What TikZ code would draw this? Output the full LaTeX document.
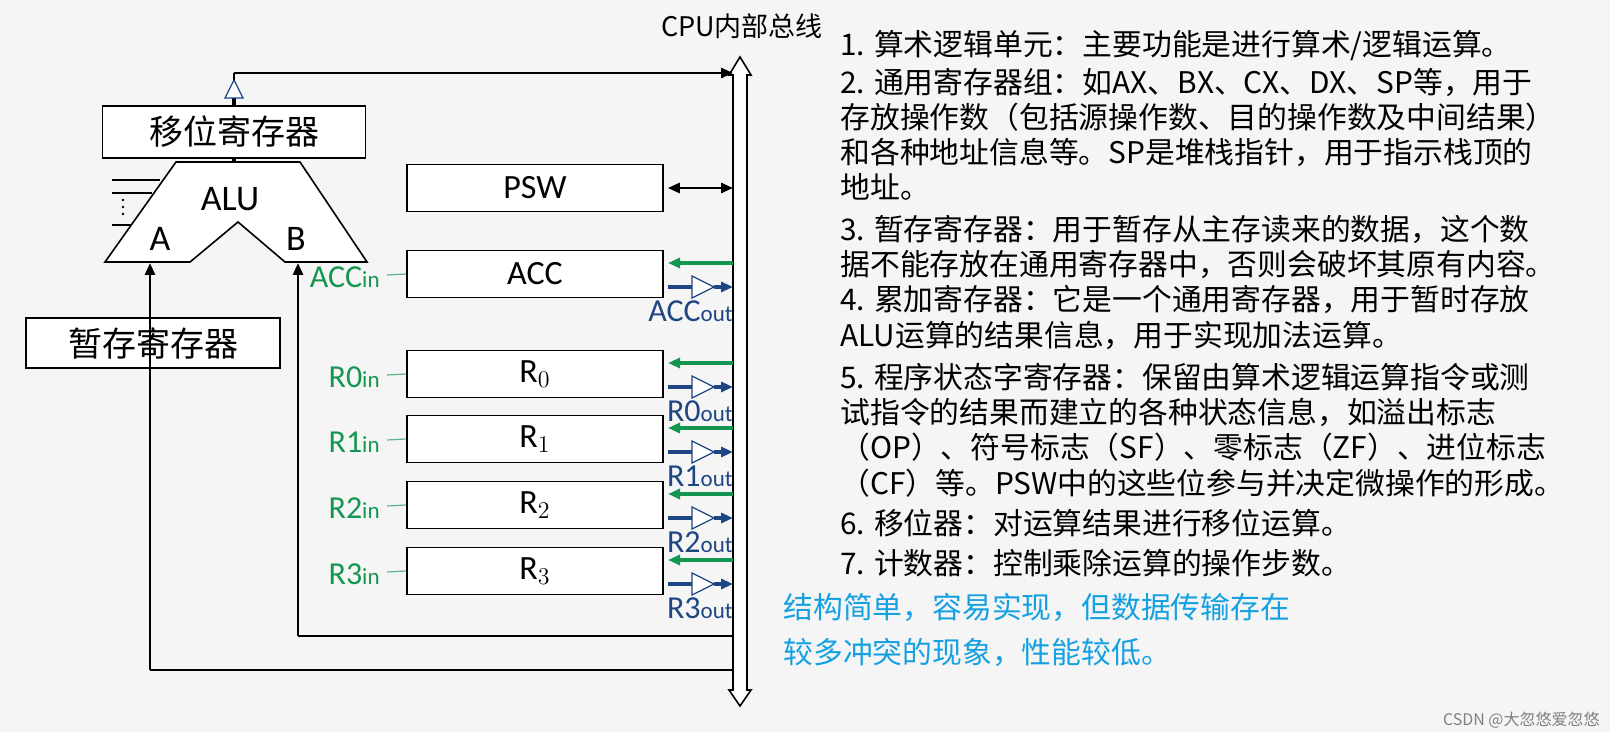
\documentclass[tikz,border=0pt]{standalone}
\usepackage{fontspec}
\setmainfont{Carlito}
\newfontfamily\cjk{Noto Sans CJK SC}
\usetikzlibrary{arrows.meta}
\definecolor{gr}{RGB}{20,150,80}
\definecolor{bl}{RGB}{30,70,130}
\definecolor{lb}{RGB}{20,160,225}
\begin{document}
\begin{tikzpicture}[x=0.5pt,y=-0.5pt,
 box/.style={draw,fill=white,line width=0.8pt},
 blk/.style={line width=1.4pt,-{Triangle[length=6pt,width=5pt]}},
 ga/.style={gr,line width=1.6pt,-{Triangle[length=6pt,width=5pt]}},
 ba/.style={bl,line width=1.6pt,-{Triangle[length=6pt,width=5pt]}},
 buf/.style={draw=bl,fill=white,line width=0.6pt},
 rt/.style={anchor=west,font=\cjk\fontsize{14.9pt}{16pt}\selectfont,inner sep=0pt},
 lbl/.style={font=\fontsize{18pt}{20pt}\selectfont}]
\fill[white!96!black] (0,0) rectangle (1610,732);
% bus
\draw[line width=0.8pt,fill=white] (733,75)--(733,690)--(729,690)--(740,706)--(751,690)--(747,690)--(747,75)--(751,75)--(740,57)--(729,75)--cycle;
\coordinate (bustop) at (733,73);
\node[font=\cjk\fontsize{13.5pt}{15pt}\selectfont] (cpu) at (742,26) {CPU内部总线};
% shift register and buffer
\node[box,minimum width=131.5pt,minimum height=26pt,font=\cjk\fontsize{17pt}{19pt}\selectfont] (sr) at (234,132) {移位寄存器};
\draw[line width=1.6pt] (sr.north) -- (234,96);
\draw[draw=bl,fill=white,line width=0.6pt] (225,98)--(243,98)--(234,80)--cycle;
\coordinate (c1) at (234,73);
\draw[line width=1.4pt] (234,80)--(c1);
\draw[blk] (c1) -- (bustop);
% ALU
\draw[line width=1.6pt] (234,158)--(234,162);
\draw[fill=white,line width=0.8pt] (176,162)--(300,162)--(367,262)--(285,262)--(238,222)--(190,262)--(105,262)--cycle;
\node[lbl] (alu) at (230,199) {ALU};
\node[lbl] (a) at (160,239) {A};
\node[lbl] (b) at (296,239) {B};
\foreach \yy/\xe in {180/160,193/152,225/131} \draw[line width=0.6pt] (112,\yy)--(\xe,\yy);
\foreach \yy in {200,207,214} \fill (123,\yy) circle (1.3);
% temp register
\node[box,minimum width=127pt,minimum height=25pt,font=\cjk\fontsize{17pt}{19pt}\selectfont] (tmp) at (153,343) {暂存寄存器};
\coordinate (ca) at (150,670);
\coordinate (cb) at (298,636);
\draw[line width=1.4pt] (733,670)--(ca);
\draw[blk] (ca)--(150,263);
\draw[line width=1.4pt] (733,636)--(cb);
\draw[blk] (cb)--(298,263);
\node[box,minimum width=128pt,minimum height=23.5pt,font=\fontsize{17pt}{19pt}\selectfont] (psw) at (535,188) {PSW};
\draw[line width=1.4pt,{Triangle[length=6pt,width=5pt]}-{Triangle[length=6pt,width=5pt]}] (psw.east)+(4,0) -- (733,188);
% registers
\foreach \t/\nm/\txt/\inl/\outl in {250/acc/ACC/ACC/ACC,350/r0/$\mathrm{R}_0$/R0/R0,415/r1/$\mathrm{R}_1$/R1/R1,481/r2/$\mathrm{R}_2$/R2/R2,547/r3/$\mathrm{R}_3$/R3/R3}{
 \node[box,minimum width=128pt,minimum height=23.5pt,font=\fontsize{17pt}{19pt}\selectfont] (\nm) at (535,\t+24) {\txt};
 \draw[ga] (733,\t+13)--(668,\t+13);
 \draw[bl,line width=1.6pt] (668,\t+37)--(692,\t+37);
 \draw[buf] (692,\t+26)--(692,\t+48)--(714,\t+37)--cycle;
 \draw[ba] (714,\t+37)--(733,\t+37);
 \node[bl,anchor=east,inner sep=0pt,font=\fontsize{16pt}{17pt}\selectfont] at (733,\t+61) {\outl\fontsize{11.5pt}{13pt}\selectfont out};
 \node[gr,anchor=east,inner sep=0pt,font=\fontsize{16pt}{17pt}\selectfont] at (380,\t+27) {\inl\fontsize{11.5pt}{13pt}\selectfont in};
 \draw[gr!70,line width=0.6pt] (387,\t+25)--(\nm.west);
}
% right text
\foreach \yy/\s in {
46/{1. 算术逻辑单元：主要功能是进行算术/逻辑运算。},
82/{2. 通用寄存器组：如AX、BX、CX、DX、SP等，用于},
117/{存放操作数（包括源操作数、目的操作数及中间结果）},
152/{和各种地址信息等。SP是堆栈指针，用于指示栈顶的},
187/{地址。},
229/{3. 暂存寄存器：用于暂存从主存读来的数据，这个数},
264/{据不能存放在通用寄存器中，否则会破坏其原有内容。},
299/{4. 累加寄存器：它是一个通用寄存器，用于暂时存放},
335/{ALU运算的结果信息，用于实现加法运算。},
377/{5. 程序状态字寄存器：保留由算术逻辑运算指令或测},
412/{试指令的结果而建立的各种状态信息，如溢出标志},
447/{（OP）、符号标志（SF）、零标志（ZF）、进位标志},
483/{（CF）等。PSW中的这些位参与并决定微操作的形成。},
523/{6. 移位器：对运算结果进行移位运算。},
563/{7. 计数器：控制乘除运算的操作步数。}}
 \node[rt] at (840,\yy) {\s};
\node[rt,lb] (n1) at (783,607) {结构简单，容易实现，但数据传输存在};
\node[rt,lb] (n2) at (783,652) {较多冲突的现象，性能较低。};
\node[anchor=east,gray,inner sep=0pt,font=\cjk\fontsize{8pt}{9pt}\selectfont] (wm) at (1600,720) {CSDN @大忽悠爱忽悠};
\pgfresetboundingbox
\useasboundingbox (0,0) rectangle (1610,732);
\end{tikzpicture}
\end{document}
